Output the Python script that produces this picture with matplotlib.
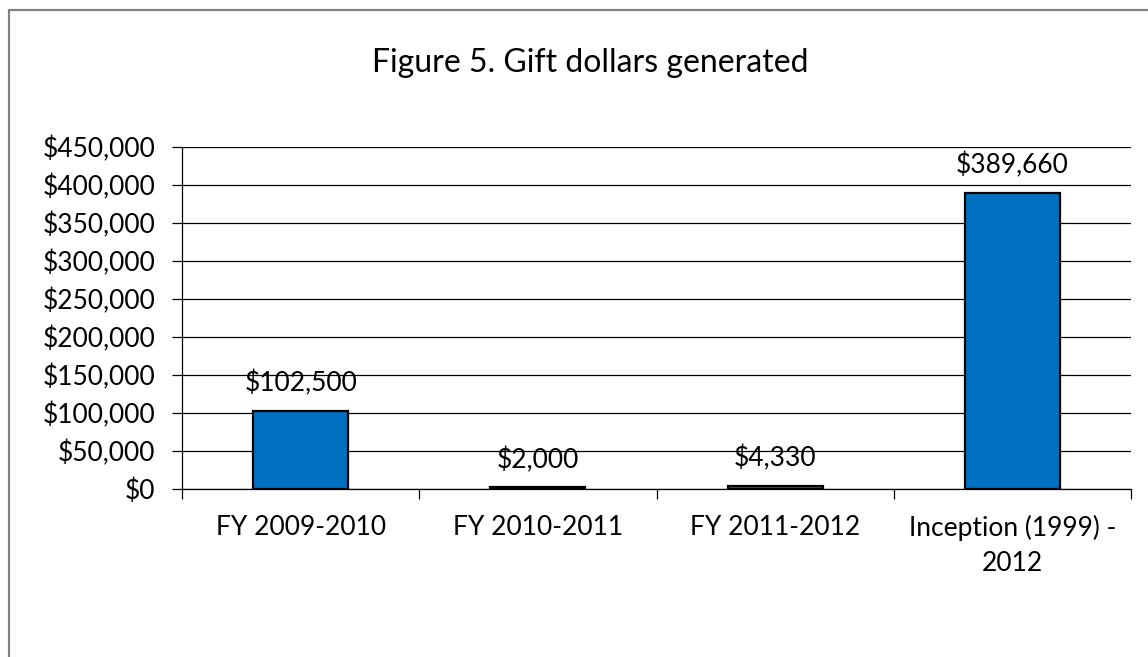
import matplotlib
matplotlib.use("Agg")
import matplotlib.pyplot as plt
from matplotlib.lines import Line2D
from matplotlib.ticker import FuncFormatter, FixedLocator

plt.rcParams['font.family'] = ['Lato', 'DejaVu Sans']

categories = ["FY 2009-2010", "FY 2010-2011", "FY 2011-2012", "Inception (1999) -\n2012"]
values = [102500, 2000, 4330, 389660]
title = "Figure 5. Gift dollars generated"

W, H = 1148, 657
fig = plt.figure(figsize=(W / 100, H / 100), dpi=100)
ax = fig.add_axes([182 / W, 1 - 489 / H, (1131 - 182) / W, (489 - 147) / H])

x = list(range(len(categories)))
bars = ax.bar(x, values, width=0.40, color="#0070C0", edgecolor="black", linewidth=1.6, zorder=3)

ax.set_xlim(-0.5, len(categories) - 0.5)
ax.set_ylim(0, 450000)
ax.set_yticks(range(0, 450001, 50000))
ax.yaxis.set_major_formatter(FuncFormatter(lambda v, p: f"${int(v):,}"))
ax.grid(axis="y", color="#000000", linewidth=0.9, zorder=0)

# category boundary ticks (major) and centered labels (minor)
ax.xaxis.set_major_locator(FixedLocator([i - 0.5 for i in range(len(categories) + 1)]))
ax.xaxis.set_major_formatter(FuncFormatter(lambda v, p: ""))
ax.xaxis.set_minor_locator(FixedLocator(x))
ax.set_xticklabels(categories, minor=True)
ax.tick_params(axis="x", which="major", length=7, width=0.9, color="black", direction="out")
ax.tick_params(axis="x", which="minor", length=0, pad=19, labelsize=19)
ax.tick_params(axis="y", length=7, width=0.9, direction="out", pad=12, labelsize=19)
for lbl in ax.get_xticklabels(minor=True):
    lbl.set_linespacing(1.5)

for s in ["top", "right"]:
    ax.spines[s].set_visible(False)
ax.spines["left"].set_color("black")
ax.spines["bottom"].set_color("black")
ax.spines["left"].set_linewidth(0.9)
ax.spines["bottom"].set_linewidth(0.9)

for xi, v in zip(x, values):
    ax.annotate(f"${v:,}", xy=(xi, v), xytext=(0, 14), textcoords="offset points",
                ha="center", va="baseline", fontsize=19, zorder=4)

fig.text(590 / W, 1 - 72 / H, title, ha="center", va="baseline", fontsize=23)

# chart border (top and left visible)
fig.add_artist(Line2D([9 / W, 9 / W, 1.0], [0.0, 1 - 10 / H, 1 - 10 / H],
                      transform=fig.transFigure, color="#808080", linewidth=1.6))

fig.savefig("out.png", dpi=100, facecolor="white")
